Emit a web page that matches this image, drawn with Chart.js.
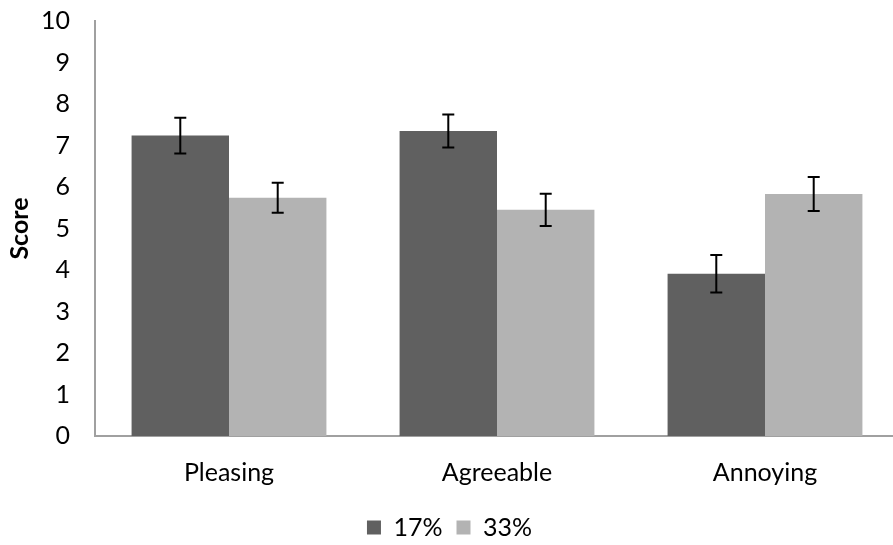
<!DOCTYPE html>
<html>
<head>
<meta charset="utf-8">
<script src="https://cdn.jsdelivr.net/npm/chart.js@4.4.1/dist/chart.umd.min.js"></script>
<style>
  html, body { margin: 0; padding: 0; background: #fff; overflow: hidden; }
  #wrap { width: 900px; height: 545px; }
</style>
</head>
<body>
<div id="wrap"><canvas id="c" width="900" height="545"></canvas></div>
<script>
const categories = ['Pleasing', 'Agreeable', 'Annoying'];
const seriesNames = ['17%', '33%'];
const values17 = [7.24, 7.35, 3.91];
const values33 = [5.74, 5.45, 5.83];
const errors17 = [0.43, 0.40, 0.45];
const errors33 = [0.36, 0.39, 0.41];
const yTicks = [0, 1, 2, 3, 4, 5, 6, 7, 8, 9, 10];

const FONT = 'Lato, "Open Sans", sans-serif';

const errorBarPlugin = {
  id: 'errorBars',
  afterDatasetsDraw(chart) {
    const ctx = chart.ctx;
    const yScale = chart.scales.y;
    chart.data.datasets.forEach((ds, di) => {
      const meta = chart.getDatasetMeta(di);
      if (meta.hidden) return;
      meta.data.forEach((bar, i) => {
        const v = ds.data[i];
        const e = ds.errors[i];
        const x = bar.x;
        const yTop = yScale.getPixelForValue(v + e);
        const yBot = yScale.getPixelForValue(v - e);
        const cap = 6;
        ctx.save();
        ctx.strokeStyle = '#000';
        ctx.lineWidth = 2;
        ctx.beginPath();
        ctx.moveTo(x, yTop); ctx.lineTo(x, yBot);
        ctx.moveTo(x - cap, yTop); ctx.lineTo(x + cap, yTop);
        ctx.moveTo(x - cap, yBot); ctx.lineTo(x + cap, yBot);
        ctx.stroke();
        ctx.restore();
      });
    });
  }
};

new Chart(document.getElementById('c'), {
  type: 'bar',
  data: {
    labels: categories,
    datasets: [
      { label: seriesNames[0], data: values17, errors: errors17, backgroundColor: '#606060', borderWidth: 0 },
      { label: seriesNames[1], data: values33, errors: errors33, backgroundColor: '#b3b3b3', borderWidth: 0 }
    ]
  },
  options: {
    responsive: false,
    animation: false,
    layout: { padding: { top: 21, right: 1, left: 0, bottom: -5 } },
    datasets: { bar: { categoryPercentage: 0.727, barPercentage: 1.0 } },
    plugins: {
      legend: {
        position: 'bottom',
        labels: {
          boxWidth: 14, boxHeight: 14, padding: 14,
          color: '#000',
          font: { family: FONT, size: 25 }
        }
      },
      tooltip: { enabled: false }
    },
    scales: {
      x: {
        grid: { display: false, drawTicks: false },
        border: { display: true, color: '#a0a0a0', width: 2 },
        ticks: { color: '#000', font: { family: FONT, size: 25 }, padding: 22 },
        afterFit(scale) { scale.height = 65; }
      },
      y: {
        min: 0, max: 10,
        afterBuildTicks(scale) { scale.ticks = yTicks.map(v => ({ value: v })); },
        grid: { display: false, drawTicks: false },
        border: { display: true, color: '#a0a0a0', width: 2 },
        ticks: { color: '#000', font: { family: FONT, size: 25 }, padding: 25 },
        title: {
          display: true, text: 'Score', color: '#000',
          font: { family: FONT, size: 25, weight: 'bold' },
          padding: { top: 5, bottom: 0 }
        },
        afterFit(scale) {
          scale.width = 95;
          scale.paddingTop = 0;
          scale.paddingBottom = 0;
        }
      }
    }
  },
  plugins: [errorBarPlugin]
});
</script>
</body>
</html>
